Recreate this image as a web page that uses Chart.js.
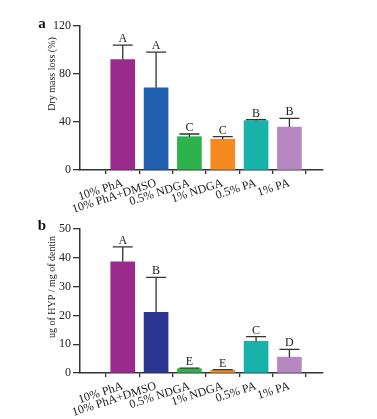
<!DOCTYPE html>
<html>
<head>
<meta charset="utf-8">
<script src="https://cdn.jsdelivr.net/npm/chart.js@4"></script>
<style>
    body { margin: 0; background: #fff; }
    .painel { position: absolute; left: 0; width: 377px; }
    #painelA { top: 0; height: 212px; }
    #painelB { top: 212px; height: 207px; }
</style>
</head>
<body>
<div class="painel" id="painelA"><canvas id="chartA"></canvas></div>
<div class="painel" id="painelB"><canvas id="chartB"></canvas></div>
<script>
// Dados
const categories = ['10% PhA', '10% PhA+DMSO', '0.5% NDGA', '1% NDGA', '0.5% PA', '1% PA'];

const massLoss = [92, 68.5, 27.8, 25.6, 41.2, 35.8];
const massLossSd = [12, 29.8, 2.2, 2.2, 0.8, 7.2];
const massLossLetters = ['A', 'A', 'C', 'C', 'B', 'B'];

const hyp = [38.6, 21.1, 1.5, 1.0, 11.0, 5.5];
const hypSd = [5.2, 12.1, 0.2, 0.2, 1.6, 2.7];
const hypLetters = ['A', 'B', 'E', 'E', 'C', 'D'];

const coresA = ['#9b2a8d', '#1f5fae', '#2eb24b', '#f58a20', '#17b3aa', '#b787c0'];
const coresB = ['#9b2a8d', '#2c3592', '#2eb24b', '#f58a20', '#17b3aa', '#b787c0'];

const serif = "'Liberation Serif', 'Times New Roman', serif";
const cinza = '#333';

// Barras de erro (só para cima), letras e títulos
const errorBars = {
    id: 'errorBars',
    afterDatasetsDraw(chart, args, opts) {
        const { ctx, chartArea, scales: { x, y } } = chart;
        ctx.save();
        ctx.strokeStyle = cinza;
        ctx.lineWidth = 1.3;
        ctx.fillStyle = '#222';
        ctx.font = '12px ' + serif;
        ctx.textAlign = 'center';
        ctx.textBaseline = 'alphabetic';
        opts.values.forEach((v, i) => {
            const px = x.getPixelForValue(i);
            const yBar = y.getPixelForValue(v);
            const yTop = y.getPixelForValue(v + opts.sd[i]);
            ctx.beginPath();
            ctx.moveTo(px, yBar);
            ctx.lineTo(px, yTop);
            ctx.moveTo(px - 10, yTop);
            ctx.lineTo(px + 10, yTop);
            ctx.stroke();
            ctx.fillText(opts.letters[i], px, yTop - 3);
        });
        // letra do painel
        ctx.font = 'bold 15px ' + serif;
        ctx.fillStyle = '#111';
        ctx.fillText(opts.panel, chartArea.left - 38, chartArea.top + opts.panelDy);
        // título do eixo y
        ctx.translate(chartArea.left - 28, chartArea.top + opts.titleDy);
        ctx.rotate(-Math.PI / 2);
        ctx.font = opts.titleSize + 'px ' + serif;
        ctx.fillStyle = '#222';
        ctx.textBaseline = 'middle';
        ctx.fillText(opts.title, 0, 0);
        ctx.restore();
    }
};

function criarGrafico(id, valores, sd, letras, cores, yMax, passo, titulo, painel, topo, xAltura, panelDy, titleDy) {
    new Chart(document.getElementById(id), {
        type: 'bar',
        data: {
            datasets: [{
                data: valores.map((v, i) => ({ x: i, y: v })),
                backgroundColor: cores,
                barThickness: 24
            }]
        },
        options: {
            responsive: true,
            maintainAspectRatio: false,
            animation: false,
            layout: { padding: { top: topo, left: 45, right: 54, bottom: 0 } },
            plugins: {
                legend: { display: false },
                tooltip: { enabled: false },
                errorBars: {
                    values: valores, sd: sd, letters: letras, panel: painel, panelDy: panelDy,
                    title: titulo, titleDy: titleDy, titleSize: 10
                }
            },
            scales: {
                x: {
                    type: 'linear',
                    min: -0.675,
                    max: 5.4,
                    afterBuildTicks: s => { s.ticks = categories.map((_, i) => ({ value: i })); },
                    afterFit: s => { s.height = xAltura; },
                    grid: { drawOnChartArea: false, tickLength: 4, color: cinza, lineWidth: 1.3 },
                    border: { color: cinza, width: 1.5 },
                    ticks: {
                        autoSkip: false,
                        minRotation: 18,
                        maxRotation: 18,
                        labelOffset: 0,
                        padding: 2,
                        color: '#222',
                        font: { family: serif, size: 12 },
                        callback: (v, i) => categories[i]
                    }
                },
                y: {
                    min: 0,
                    max: yMax,
                    afterFit: s => { s.width = 35; },
                    grid: { drawOnChartArea: false, tickLength: 7, color: cinza, lineWidth: 1.3 },
                    border: { color: cinza, width: 1.5 },
                    ticks: {
                        stepSize: passo,
                        padding: 2,
                        color: '#222',
                        font: { family: serif, size: 12 }
                    }
                }
            }
        },
        plugins: [errorBars]
    });
}

criarGrafico('chartA', massLoss, massLossSd, massLossLetters, coresA, 120, 40, 'Dry mass loss (%)', 'a', 26, 42, 2, 48);
criarGrafico('chartB', hyp, hypSd, hypLetters, coresB, 50, 10, 'ug of HYP / mg of dentin', 'b', 17, 46, 1, 58);
</script>
</body>
</html>
